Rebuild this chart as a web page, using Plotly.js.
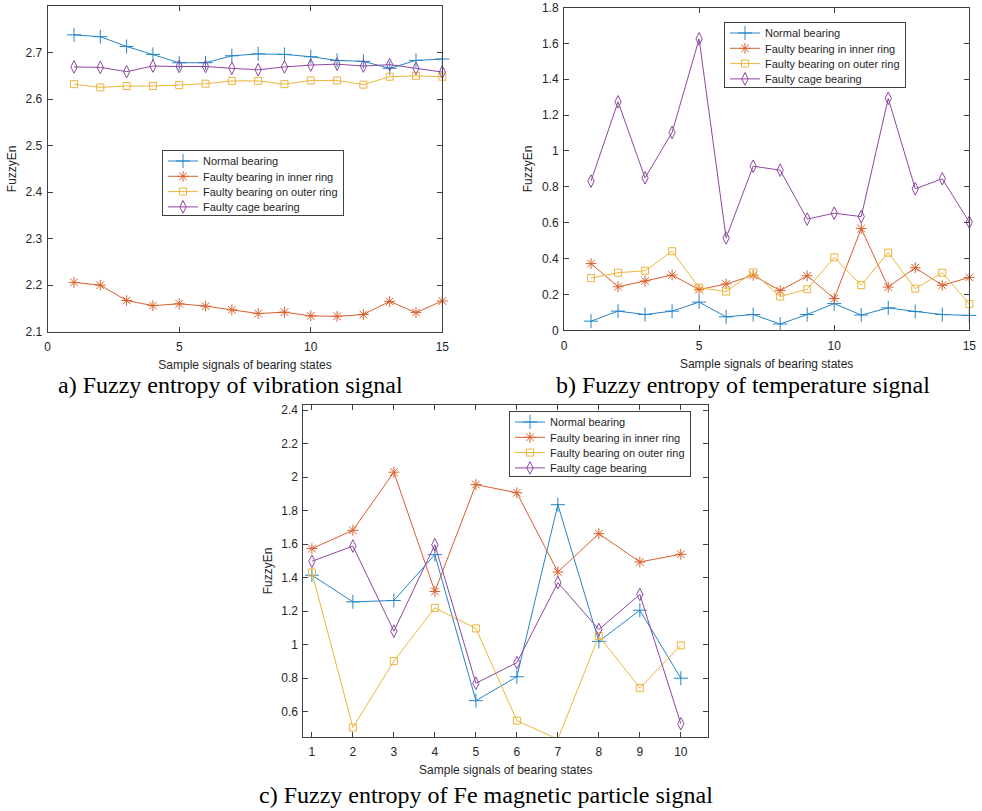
<!DOCTYPE html>
<html>
<head>
<meta charset="utf-8">
<script src="https://cdn.plot.ly/plotly-3.0.1.min.js"></script>
<style>html,body{margin:0;padding:0;background:#fff;}#chart{width:982px;height:811px;}</style>
</head>
<body>
<div id="chart"></div>
<script>
// ---- Data ----
var seriesNames = ["Normal bearing", "Faulty bearing in inner ring", "Faulty bearing on outer ring", "Faulty cage bearing"];

// a) vibration signal
var samplesA = [1,2,3,4,5,6,7,8,9,10,11,12,13,14,15];
var vibNormal = [2.738,2.734,2.713,2.696,2.678,2.678,2.693,2.697,2.696,2.691,2.683,2.681,2.666,2.683,2.686];
var vibInner  = [2.206,2.200,2.167,2.156,2.160,2.155,2.147,2.139,2.142,2.134,2.133,2.137,2.165,2.141,2.166];
var vibOuter  = [2.632,2.625,2.628,2.628,2.630,2.633,2.639,2.639,2.632,2.640,2.640,2.631,2.648,2.650,2.648];
var vibCage   = [2.669,2.668,2.659,2.671,2.670,2.670,2.666,2.663,2.669,2.673,2.675,2.671,2.674,2.666,2.658];

// b) temperature signal
var samplesB = [1,2,3,4,5,6,7,8,9,10,11,12,13,14,15];
var tempNormal = [0.051,0.107,0.088,0.107,0.157,0.075,0.088,0.035,0.088,0.149,0.085,0.125,0.105,0.088,0.083];
var tempInner  = [0.372,0.243,0.275,0.308,0.227,0.258,0.306,0.221,0.304,0.177,0.568,0.241,0.349,0.251,0.295];
var tempOuter  = [0.291,0.321,0.332,0.441,0.238,0.216,0.323,0.188,0.229,0.407,0.252,0.433,0.232,0.321,0.147];
var tempCage   = [0.832,1.274,0.850,1.103,1.625,0.515,0.915,0.893,0.620,0.653,0.634,1.293,0.789,0.845,0.603];

// c) Fe magnetic particle signal
var samplesC = [1,2,3,4,5,6,7,8,9,10];
var feNormal = [1.414,1.255,1.263,1.537,0.665,0.808,1.835,1.019,1.205,0.799];
var feInner  = [1.573,1.682,2.029,1.317,1.955,1.906,1.433,1.662,1.493,1.539];
var feOuter  = [1.430,0.505,0.902,1.219,1.096,0.546,0.435,1.051,0.741,0.995];
var feCage   = [1.497,1.588,1.080,1.596,0.769,0.892,1.370,1.090,1.299,0.527];

var captions = ["a) Fuzzy entropy of vibration signal", "b) Fuzzy entropy of temperature signal", "c) Fuzzy entropy of Fe magnetic particle signal"];
var xTitle = "Sample signals of bearing states";
var yTitle = "FuzzyEn";

// ---- Styles ----
var colors = ["#2484C8", "#DB5F2C", "#EDB43A", "#8E47A0"];
var symbols = ["cross-thin-open", "asterisk-open", "square-open", "diamond-tall-open"];
var sizes = [10, 9, 7, 9];
var font = "Liberation Sans, Arial, sans-serif";
var serif = "Liberation Serif, Times New Roman, serif";

function mk(x, y, i, ax, lg) {
  return {
    x: x, y: y, type: "scatter", mode: "lines+markers",
    name: seriesNames[i],
    xaxis: ax[0], yaxis: ax[1], legend: lg,
    cliponaxis: false,
    line: {color: colors[i], width: 1},
    marker: {symbol: symbols[i], size: sizes[i], color: colors[i], line: {color: colors[i], width: 1}}
  };
}

var data = [];
[vibNormal, vibInner, vibOuter, vibCage].forEach(function (s, i) { data.push(mk(samplesA, s, i, ["x", "y"], "legend")); });
[tempNormal, tempInner, tempOuter, tempCage].forEach(function (s, i) { data.push(mk(samplesB, s, i, ["x2", "y2"], "legend2")); });
[feNormal, feInner, feOuter, feCage].forEach(function (s, i) { data.push(mk(samplesC, s, i, ["x3", "y3"], "legend3")); });

function axis(dom, anchor, range, tickvals, title, isX) {
  return {
    domain: dom, anchor: anchor, range: range, tickvals: tickvals,
    showline: true, mirror: "ticks", linecolor: "#404040", linewidth: 1,
    ticks: "inside", ticklen: 5, tickcolor: "#404040", tickwidth: 1,
    showgrid: false, zeroline: false, automargin: false,
    ticklabeloverflow: "allow",
    ticklabelstandoff: isX ? 4 : 2,
    tickfont: {family: font, size: 12, color: "#262626"},
    title: {text: title, font: {family: font, size: 12, color: "#262626"}, standoff: isX ? 7 : 6}
  };
}

var W = 982, H = 811;
function dx(a, b) { return [a / W, b / W]; }
function dy(top, bottom) { return [1 - bottom / H, 1 - top / H]; }

function legend(x, y) {
  return {
    x: x / W, y: 1 - y / H, xanchor: "left", yanchor: "top",
    bgcolor: "#ffffff", bordercolor: "#404040", borderwidth: 1,
    font: {family: font, size: 11, color: "#262626"},
    tracegroupgap: 0, itemwidth: 30
  };
}

function caption(t, x, y) {
  return {text: t, xref: "paper", yref: "paper", x: x / W, y: 1 - y / H, showarrow: false,
          xanchor: "center", yanchor: "middle", font: {family: serif, size: 24, color: "#000"}};
}

var layout = {
  width: W, height: H,
  margin: {l: 0, r: 0, t: 0, b: 0},
  paper_bgcolor: "#ffffff", plot_bgcolor: "#ffffff",
  showlegend: true,
  xaxis: axis(dx(47.7, 442.3), "y", [0, 15], [0, 5, 10, 15], xTitle, true),
  yaxis: axis(dy(6, 331.7), "x", [2.1, 2.8], [2.1, 2.2, 2.3, 2.4, 2.5, 2.6, 2.7], yTitle, false),
  xaxis2: axis(dx(564, 969.3), "y2", [0, 15], [0, 5, 10, 15], xTitle, true),
  yaxis2: axis(dy(7.5, 330.3), "x2", [0, 1.8], [0, 0.2, 0.4, 0.6, 0.8, 1, 1.2, 1.4, 1.6, 1.8], yTitle, false),
  xaxis3: axis(dx(303.3, 708.3), "y3", [0.79, 10.67], [1, 2, 3, 4, 5, 6, 7, 8, 9, 10], xTitle, true),
  yaxis3: axis(dy(405, 736.7), "x3", [0.45, 2.43], [0.6, 0.8, 1, 1.2, 1.4, 1.6, 1.8, 2, 2.2, 2.4], yTitle, false),
  legend: legend(162, 150),
  legend2: legend(724, 22),
  legend3: legend(509, 411),
  annotations: [
    caption(captions[0], 230, 385),
    caption(captions[1], 743, 385),
    caption(captions[2], 486, 795)
  ]
};

// Tighten legend rows to MATLAB-like spacing
function tightenLegends(gd) {
  var rowGap = 15.3, firstShift = -4.5, boxH = 66;
  var groups = gd.querySelectorAll("g.legend, g.legend2, g.legend3");
  groups.forEach(function (g) {
    var items = Array.prototype.slice.call(g.querySelectorAll("g.traces"));
    var parsed = items.map(function (el) {
      var t = el.getAttribute("transform") || "";
      var m = /translate\(\s*([-\d.eE]+)[ ,]+([-\d.eE]+)\s*\)/.exec(t);
      return {el: el, x: m ? parseFloat(m[1]) : 0, y: m ? parseFloat(m[2]) : 0};
    }).sort(function (a, b) { return a.y - b.y; });
    if (!parsed.length) return;
    var y0 = parsed[0].y + firstShift;
    parsed.forEach(function (p, i) {
      p.el.setAttribute("transform", "translate(" + p.x + "," + (y0 + i * rowGap) + ")");
    });
    var bg = g.querySelector("rect.bg");
    if (bg) bg.setAttribute("height", boxH - 1);
  });
}

Plotly.newPlot("chart", data, layout, {staticPlot: true, displayModeBar: false}).then(function (gd) {
  tightenLegends(gd);
});
</script>
</body>
</html>
